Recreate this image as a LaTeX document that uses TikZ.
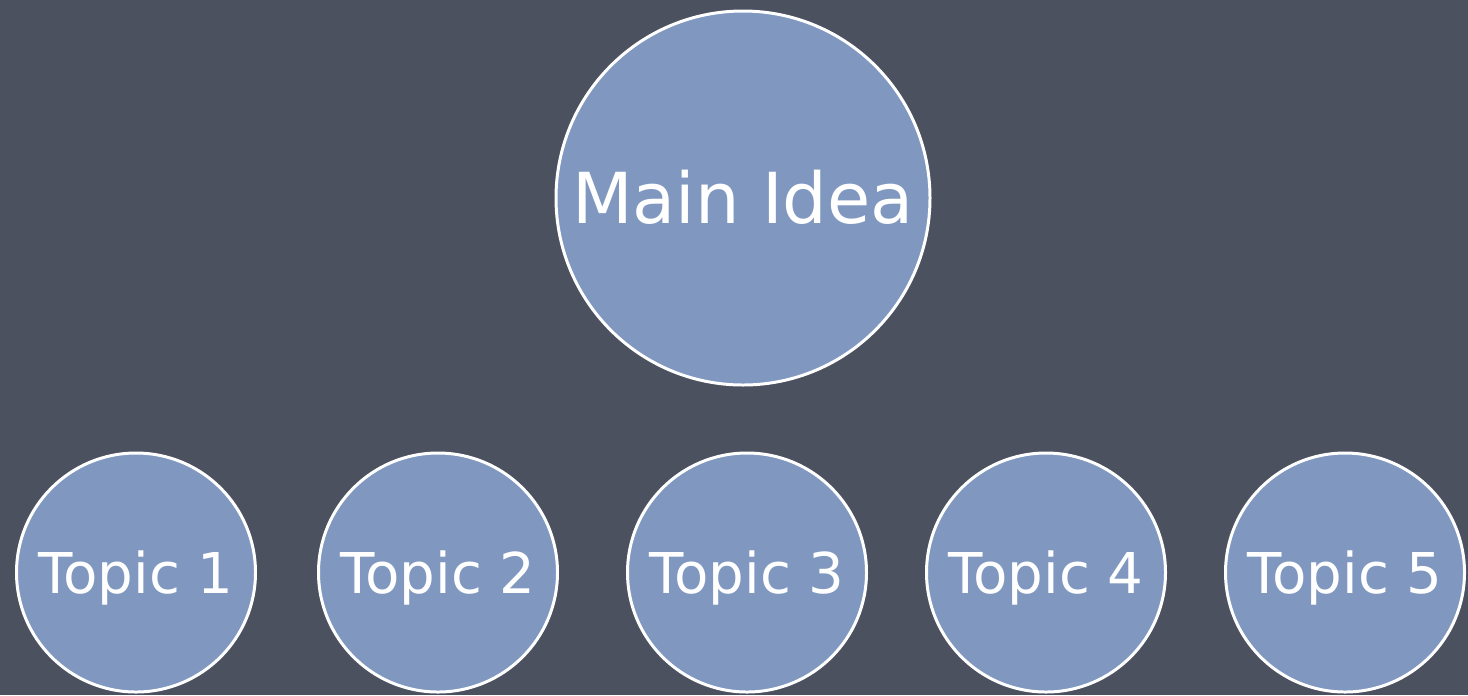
\documentclass[tikz,border=0pt]{standalone}
\usepackage{fontspec}
\setmainfont{DejaVu Sans}
\usetikzlibrary{positioning}
\definecolor{board}{RGB}{76,81,96}
\definecolor{chalkblue}{RGB}{128,152,192}
\tikzset{
  bubble/.style={circle,draw=white,line width=1.7pt,fill=chalkblue,text=white,
    inner sep=0pt,text depth=0pt,minimum size=#1},
  bubble/.default=4.78cm,
  big bubble/.style={bubble=7.48cm,font=\fontsize{40}{40}\selectfont,text height=29.2pt},
  topic/.style={bubble=4.78cm,font=\fontsize{32}{32}\selectfont,text height=23.4pt},
}
\begin{document}
\begin{tikzpicture}
    % chalkboard
    \fill[board] (0,0) rectangle (29.36,-13.9);
    \useasboundingbox (0,0) rectangle (29.36,-13.9);
    % main idea
    \node[big bubble] (main) at (14.86,-3.96) {Main Idea};
    % topics
    \node[topic] (t1) at (2.72,-11.45) {Topic 1};
    \node[topic] (t2) at (8.76,-11.45) {Topic 2};
    \node[topic] (t3) at (14.94,-11.45) {Topic 3};
    \node[topic] (t4) at (20.92,-11.45) {Topic 4};
    \node[topic] (t5) at (26.9,-11.45) {Topic 5};
  \end{tikzpicture}
\end{document}
